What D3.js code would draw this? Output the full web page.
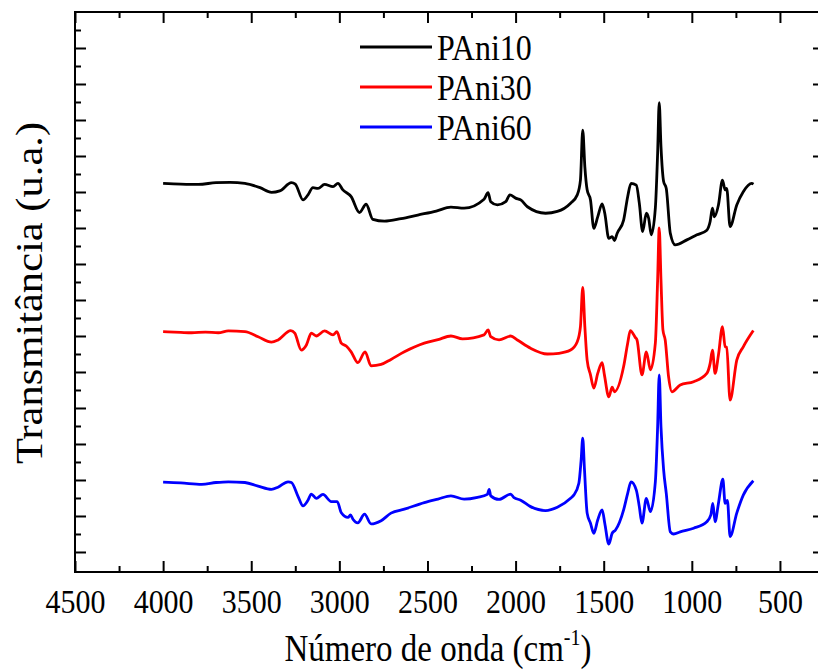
<!DOCTYPE html>
<html>
<head>
<meta charset="utf-8">
<script src="https://cdn.jsdelivr.net/npm/d3@7"></script>
<style>
  body { margin: 0; background: #fff; }
  svg { display: block; }
  text { font-family: "Liberation Serif", "Times New Roman", serif; fill: #000; }
</style>
</head>
<body>
<svg id="chart" width="818" height="671"></svg>
<script>
// ---- data (wavenumber cm^-1, transmittance a.u.) ----
const seriesNames = ["PAni10", "PAni30", "PAni60"];
const seriesColors = ["#000000", "#ff0000", "#0000ff"];

const pani10 = [
  [4000,10.24],[3900,10.22],[3800,10.21],[3700,10.26],[3620,10.27],[3536,10.24],[3450,10.12],[3385,9.99],[3338,10.03],[3272,10.26],[3250,10.22],
  [3206,9.78],[3178,9.92],[3150,10.12],[3121,10.10],[3084,10.21],[3036,10.15],[3008,10.24],[2980,10.06],
  [2933,9.87],[2886,9.43],[2848,9.66],[2810,9.24],[2744,9.19],[2650,9.26],[2555,9.36],[2450,9.47],[2367,9.58],[2292,9.55],
  [2179,9.80],[2156,9.98],[2141,9.73],[2103,9.64],[2056,9.73],[2032,9.92],[2000,9.83],[1971,9.78],
  [1933,9.59],[1830,9.41],[1763,9.46],[1688,9.69],[1650,9.92],[1632,10.33],[1619,11.72],[1607,10.70],
  [1594,10.06],[1575,9.78],[1556,8.99],[1534,9.31],[1509,9.67],[1494,9.41],[1471,8.71],[1452,8.76],
  [1439,8.65],[1424,8.85],[1387,9.22],[1364,9.87],[1345,10.24],[1315,10.19],[1298,9.69],[1279,8.90],
  [1258,9.41],[1245,9.27],[1230,8.81],[1207,9.55],[1194,11.08],[1185,12.48],[1175,11.26],[1160,10.29],
  [1145,10.10],[1122,8.85],[1094,8.53],[1028,8.67],[971,8.81],[915,8.94],[896,9.18],[883,9.55],
  [872,9.31],[849,9.64],[826,10.33],[811,10.06],[802,10.10],[783,9.04],[745,9.64],[708,10.01],
  [660,10.24],[650,10.22]
];

const pani30 = [
  [4000,6.12],[3900,6.10],[3838,6.09],[3760,6.11],[3687,6.09],[3630,6.14],[3536,6.12],[3461,5.98],[3385,5.83],[3348,5.89],
  [3276,6.15],[3253,6.08],[3216,5.61],[3187,5.75],[3159,6.08],[3131,6.00],[3084,6.14],[3036,6.03],
  [3014,6.12],[2989,5.80],[2961,5.72],[2933,5.56],[2895,5.26],[2854,5.56],[2820,5.17],[2763,5.21],
  [2707,5.35],[2631,5.56],[2518,5.80],[2440,5.90],[2367,6.00],[2301,5.92],[2179,6.03],[2156,6.17],[2141,5.98],
  [2094,5.89],[2028,6.00],[1990,5.89],[1915,5.66],[1820,5.50],[1754,5.52],[1688,5.61],[1650,5.84],
  [1632,6.26],[1619,7.35],[1607,6.26],[1594,5.33],[1575,4.92],[1556,4.55],[1534,4.96],[1509,5.26],
  [1496,4.92],[1471,4.31],[1452,4.58],[1439,4.45],[1387,5.15],[1364,5.80],[1349,6.15],[1321,5.96],
  [1311,5.89],[1283,4.92],[1258,5.56],[1235,5.06],[1207,5.80],[1194,7.56],[1185,9.00],[1175,7.56],
  [1164,6.17],[1151,5.89],[1132,4.87],[1113,4.45],[1066,4.64],[990,4.73],[915,4.96],[896,5.24],
  [883,5.61],[868,4.96],[849,5.47],[826,6.26],[811,5.70],[802,5.69],[783,4.22],[745,5.33],
  [708,5.70],[651,6.15]
];

const pani60 = [
  [4000,1.94],[3900,1.92],[3781,1.88],[3700,1.93],[3630,1.95],[3536,1.93],[3461,1.83],[3385,1.74],[3348,1.80],[3291,1.95],
  [3272,1.93],[3234,1.54],[3206,1.28],[3178,1.44],[3159,1.61],[3131,1.49],[3093,1.60],[3046,1.40],
  [3012,1.40],[2989,1.09],[2951,0.96],[2937,1.03],[2923,0.91],[2895,0.81],[2857,1.05],[2820,0.78],
  [2763,0.87],[2707,1.08],[2631,1.19],[2518,1.37],[2440,1.47],[2367,1.56],[2292,1.47],[2216,1.52],[2160,1.60],
  [2150,1.74],[2141,1.56],[2094,1.46],[2028,1.61],[2009,1.51],[1971,1.44],[1915,1.26],[1830,1.15],
  [1763,1.24],[1688,1.49],[1670,1.58],[1641,1.91],[1628,2.56],[1619,3.16],[1609,2.28],[1594,1.08],
  [1575,0.80],[1556,0.52],[1534,0.89],[1509,1.17],[1494,0.80],[1471,0.22],[1452,0.52],[1433,0.61],
  [1387,1.17],[1364,1.63],[1345,1.95],[1315,1.72],[1298,1.26],[1283,0.80],[1258,1.49],[1235,1.12],
  [1207,1.95],[1194,3.48],[1185,4.92],[1175,3.48],[1160,2.28],[1145,1.63],[1122,0.56],[1103,0.50],
  [1066,0.56],[990,0.66],[915,0.84],[892,1.03],[881,1.35],[868,0.84],[849,1.35],[824,2.02],
  [811,1.35],[798,1.43],[783,0.43],[745,1.08],[708,1.58],[651,1.98]
];

const xMajorTicks = [4500, 4000, 3500, 3000, 2500, 2000, 1500, 1000, 500];
const xMinorTicks = [4250, 3750, 3250, 2750, 2250, 1750, 1250, 750, 250];
const yMajorTicks = d3.range(0, 15, 1);
const yMinorTicks = d3.range(0.5, 15, 1);

const xTitleMain = "Número de onda (cm";
const xTitleSup = "-1";
const yTitle = "Transmitância (u.a.)";

// ---- layout ----
const svg = d3.select("#chart");
const L = 75, T = 12, B = 572, R = 824;
const SY = 1.15; // vertical text stretch of the original

const x = d3.scaleLinear().domain([4500, 250]).range([L, R]);
const y = d3.scaleLinear().domain([-0.556, 15]).range([B, T]);

const allSeries = [pani10, pani30, pani60];

// curves
const line = d3.line().x(d => x(d[0])).y(d => y(d[1])).curve(d3.curveMonotoneX);
svg.append("g").selectAll("path").data(allSeries).join("path")
  .attr("d", line)
  .attr("fill", "none")
  .attr("stroke", (d, i) => seriesColors[i])
  .attr("stroke-width", 2.8)
  .attr("stroke-linejoin", "round");

function styleAxis(g) {
  g.select(".domain").remove();
  g.selectAll("line").attr("stroke", "#000").attr("stroke-width", 2);
}

// bottom
svg.append("g").attr("transform", `translate(0,${B})`)
  .call(d3.axisBottom(x).tickValues(xMajorTicks).tickSize(-11).tickPadding(14).tickFormat(d3.format("d")))
  .call(styleAxis)
  .call(g => g.selectAll("text").attr("font-size", 30).attr("font-family", "Liberation Serif")
    .attr("transform", `scale(1,${SY})`));
svg.append("g").attr("transform", `translate(0,${B})`)
  .call(d3.axisBottom(x).tickValues(xMinorTicks).tickSize(-6).tickFormat(""))
  .call(styleAxis);
// top
svg.append("g").attr("transform", `translate(0,${T})`)
  .call(d3.axisTop(x).tickValues(xMajorTicks).tickSize(-11).tickFormat(""))
  .call(styleAxis);
svg.append("g").attr("transform", `translate(0,${T})`)
  .call(d3.axisTop(x).tickValues(xMinorTicks).tickSize(-6).tickFormat(""))
  .call(styleAxis);
// left
svg.append("g").attr("transform", `translate(${L},0)`)
  .call(d3.axisLeft(y).tickValues(yMajorTicks).tickSize(-11).tickFormat(""))
  .call(styleAxis);
svg.append("g").attr("transform", `translate(${L},0)`)
  .call(d3.axisLeft(y).tickValues(yMinorTicks).tickSize(-6).tickFormat(""))
  .call(styleAxis);
// right
svg.append("g").attr("transform", `translate(${R},0)`)
  .call(d3.axisRight(y).tickValues(yMajorTicks).tickSize(-11).tickFormat(""))
  .call(styleAxis);
svg.append("g").attr("transform", `translate(${R},0)`)
  .call(d3.axisRight(y).tickValues(yMinorTicks).tickSize(-6).tickFormat(""))
  .call(styleAxis);

// frame
svg.append("rect").attr("x", L).attr("y", T).attr("width", R - L).attr("height", B - T)
  .attr("fill", "none").attr("stroke", "#000").attr("stroke-width", 2);

// legend
const leg = svg.append("g");
seriesNames.forEach((name, i) => {
  const cy = 47 + i * 40;
  leg.append("line").attr("x1", 360).attr("x2", 432).attr("y1", cy).attr("y2", cy)
    .attr("stroke", seriesColors[i]).attr("stroke-width", 3);
  leg.append("text").attr("transform", `translate(437,${cy}) scale(1,${SY})`)
    .attr("dy", "0.35em").attr("font-size", 32).text(name);
});

// axis titles
const xt = svg.append("text").attr("transform", `translate(438,661) scale(1,${SY})`)
  .attr("text-anchor", "middle").attr("font-size", 33);
xt.append("tspan").text(xTitleMain);
xt.append("tspan").attr("font-size", 20).attr("dy", -14).text(xTitleSup);
xt.append("tspan").attr("dy", 14).text(")");

svg.append("text").attr("transform", `translate(42,293) rotate(-90) scale(${SY},1)`)
  .attr("text-anchor", "middle").attr("font-size", 37).text(yTitle);
</script>
</body>
</html>
